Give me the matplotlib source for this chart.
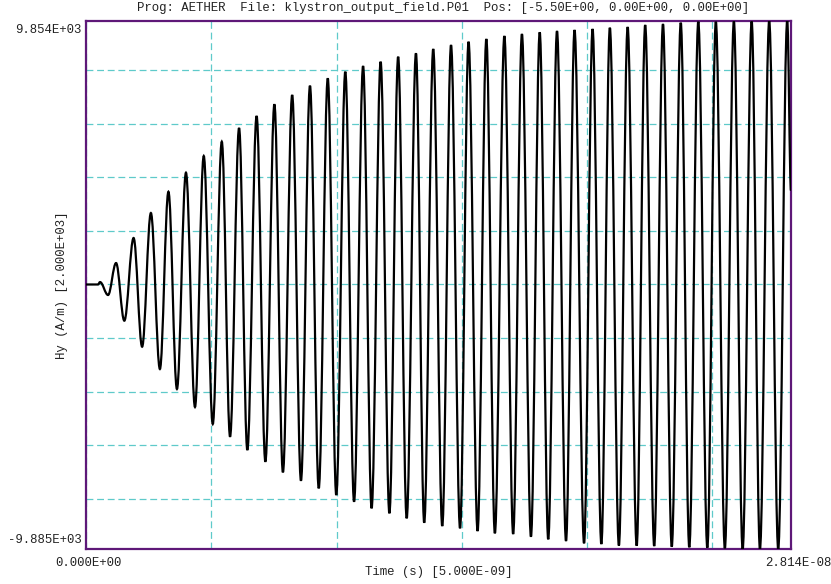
import numpy as np
import matplotlib
matplotlib.use("Agg")
import matplotlib.pyplot as plt
from matplotlib.ticker import MultipleLocator
from matplotlib.path import Path
from matplotlib.patches import PathPatch

# field probe Hy vs time (time in ns, Hy in A/m)
lead_t = [0.0, 0.48, 0.56]
lead_hy = [0, 0, 90]

trough_t = [0.88, 1.53, 2.24, 2.95, 3.63, 4.35, 5.06, 5.75, 6.44, 7.16,
            7.86, 8.58, 9.29, 9.99, 10.70, 11.40, 12.11, 12.80, 13.50, 14.22,
            14.93, 15.63, 16.32, 17.05, 17.76, 18.45, 19.16, 19.88, 20.57, 21.27,
            21.98, 22.68, 23.38, 24.08, 24.80, 25.50, 26.21, 26.90, 27.63]
trough_hy = [-393, -1352, -2323, -3156, -3902, -4574, -5209, -5683, -6179, -6616,
             -7012, -7325, -7609, -7859, -8109, -8356, -8542, -8729, -8893, -9016,
             -9102, -9203, -9289, -9315, -9416, -9513, -9576, -9662, -9688, -9744,
             -9751, -9763, -9789, -9811, -9826, -9849, -9885, -9880, -9880]

peak_t = [1.20, 1.90, 2.59, 3.29, 3.99, 4.70, 5.42, 6.11, 6.81, 7.52,
          8.23, 8.94, 9.65, 10.35, 11.06, 11.76, 12.46, 13.17, 13.86, 14.57,
          15.27, 15.98, 16.70, 17.40, 18.11, 18.80, 19.50, 20.22, 20.91, 21.62,
          22.32, 23.03, 23.74, 24.44, 25.14, 25.86, 26.57, 27.27, 27.99]
peak_hy = [801, 1735, 2668, 3463, 4172, 4796, 5330, 5841, 6289, 6726,
           7073, 7420, 7696, 7943, 8155, 8316, 8503, 8630, 8790, 8939,
           9063, 9163, 9275, 9350, 9414, 9462, 9499, 9537, 9585, 9611,
           9686, 9723, 9772, 9809, 9809, 9817, 9817, 9835, 9854]

end_t = [28.14]
end_hy = [3500]

t = np.concatenate([lead_t, trough_t, peak_t, end_t]) * 1e-9
hy = np.concatenate([lead_hy, trough_hy, peak_hy, end_hy]).astype(float)
order = np.argsort(t)
t = t[order]
hy = hy[order]

mono = "Liberation Mono"
txtc = "#222222"

fig = plt.figure(figsize=(8.31, 5.84), dpi=100)
ax = fig.add_axes([86/831, 1-549.3/584, 705/831, 528.8/584])

# draw the trace as a smooth path through the extrema (flat tangent at each)
k = 0.363
verts = [(t[0], hy[0])]
codes = [Path.MOVETO]
for i in range(1, len(t)):
    dt = t[i] - t[i-1]
    verts += [(t[i-1] + k*dt, hy[i-1]), (t[i] - k*dt, hy[i]), (t[i], hy[i])]
    codes += [Path.CURVE4] * 3
ax.add_patch(PathPatch(Path(verts, codes), fill=False, edgecolor="black",
                       lw=1.6, zorder=3))

xmin, xmax = 0.0, t.max()
ymin, ymax = hy.min(), hy.max()
ax.set_xlim(xmin, xmax)
ax.set_ylim(ymin, ymax)

ax.xaxis.set_major_locator(MultipleLocator(5e-9))
ax.yaxis.set_major_locator(MultipleLocator(2000))
ax.tick_params(length=0, labelbottom=False, labelleft=False)
ax.grid(True, color="#5fcaca", lw=0.9, linestyle=(0, (5.5, 3)))
ax.set_axisbelow(True)
for s in ax.spines.values():
    s.set_color("#5e1878")
    s.set_linewidth(1.6)

fs = 8.9
fig.text(443/831, 1-7.5/584,
         "Prog: AETHER  File: klystron_output_field.P01  Pos: [-5.50E+00, 0.00E+00, 0.00E+00]",
         ha="center", va="center", family=mono, fontsize=fs, color=txtc)

ax.text(-0.006, 1-9.5/528.8, f"{ymax:.3E}", transform=ax.transAxes,
        ha="right", va="center", family=mono, fontsize=fs, color=txtc)
ax.text(-0.006, 9.5/528.8, f"{ymin:.3E}", transform=ax.transAxes,
        ha="right", va="center", family=mono, fontsize=fs, color=txtc)

fig.text(88.5/831, 1-563/584, f"{xmin:.3E}", ha="center", va="center",
         family=mono, fontsize=fs, color=txtc)
fig.text(765/831, 1-563/584, f"{xmax:.3E}", ha="left", va="center",
         family=mono, fontsize=fs, color=txtc)

fig.text(439/831, 1-572/584, "Time (s) [5.000E-09]", ha="center", va="center",
         family=mono, fontsize=fs, color=txtc)
fig.text(62/831, 1-285/584, "Hy (A/m) [2.000E+03]", ha="center", va="center",
         rotation=90, family=mono, fontsize=fs, color=txtc)

fig.savefig("out.png", dpi=100)
